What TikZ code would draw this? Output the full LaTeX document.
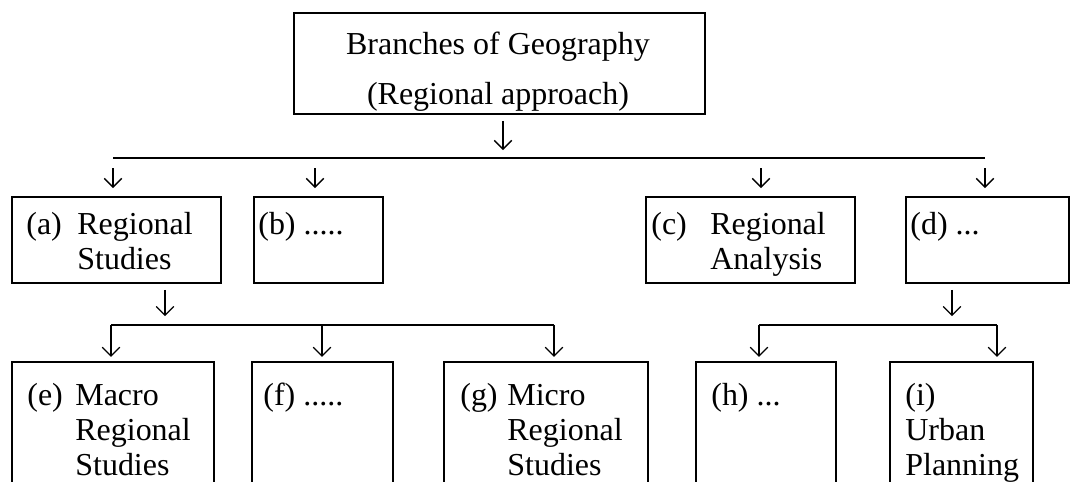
\documentclass[tikz,border=0pt]{standalone}
\usepackage{fontspec}
\setmainfont{Liberation Serif}
\usetikzlibrary{arrows.meta}

\tikzset{
  branchbox/.style={draw, line width=1.1pt, rectangle, anchor=north west, inner sep=0pt},
  entry/.style={anchor=base west, inner sep=0pt},
  bar/.style={line width=0.8pt},
  arr/.style={line width=0.75pt, -{Straight Barb[length=5pt,width=10pt]}},
}
% box from (x1,y1) to (x2,y2), in pixels of the page
\newcommand{\branch}[5]{\node[branchbox, minimum width={(#4-#2)*0.02cm}, minimum height={(#5-#3)*0.02cm}] (#1) at (#2,#3) {};}
\newcommand{\lines}[1]{\begin{tabular}[t]{@{}l@{}}#1\end{tabular}}

\begin{document}
\begin{tikzpicture}[x=0.02cm, y=-0.02cm, font=\fontsize{18.2}{19.8}\selectfont]
  \useasboundingbox (0,0) rectangle (1071,482);
  \clip (0,0) rectangle (1071,482);

  % Top box
  \branch{top}{293}{12}{704}{113}
  \node[anchor=base, inner sep=0pt, font=\fontsize{18.2}{28.3}\selectfont] (ttop) at (498,55)
    {\begin{tabular}[t]{@{}c@{}}Branches of Geography\\(Regional approach)\end{tabular}};

  % First row
  \branch{a}{11}{196}{220}{282}
  \branch{b}{253}{196}{382}{282}
  \branch{c}{645}{196}{854}{282}
  \branch{d}{905}{196}{1068}{282}
  \node[entry] (la) at (26,235) {(a)};
  \node[entry] (ta) at (77,235) {\lines{Regional\\Studies}};
  \node[entry] (lb) at (258,235) {(b) .....};
  \node[entry] (lc) at (651,235) {(c)};
  \node[entry] (tc) at (710,235) {\lines{Regional\\Analysis}};
  \node[entry] (ld) at (910,235) {(d) ...};

  % Second row
  \branch{e}{11}{361}{213}{500}
  \branch{f}{251}{361}{392}{500}
  \branch{g}{443}{361}{647}{500}
  \branch{h}{695}{361}{835}{500}
  \branch{i}{889}{361}{1032}{500}
  \node[entry] (le) at (27,406) {(e)};
  \node[entry] (te) at (75,406) {\lines{Macro\\Regional\\Studies}};
  \node[entry] (lf) at (263,406) {(f) .....};
  \node[entry] (lg) at (460,406) {(g)};
  \node[entry] (tg) at (507,406) {\lines{Micro\\Regional\\Studies}};
  \node[entry] (lh) at (711,406) {(h) ...};
  \node[entry] (li) at (905,406) {\lines{(i)\\Urban\\Planning}};

  % Branch lines
  \coordinate (bar1-a) at (113,158);
  \coordinate (bar1-b) at (315,158);
  \coordinate (bar1-c) at (761,158);
  \coordinate (bar1-d) at (985,158);
  \coordinate (bar1-top) at (503,158);
  \draw[bar] (bar1-a) -- (bar1-d);
  \coordinate (bar2-e) at (111,325);
  \coordinate (bar2-f) at (322,325);
  \coordinate (bar2-g) at (554,325);
  \coordinate (bar2-a) at (165,325);
  \draw[bar] (bar2-e) -- (bar2-g);
  \coordinate (bar3-h) at (759,325);
  \coordinate (bar3-i) at (997,325);
  \coordinate (bar3-d) at (952,325);
  \draw[bar] (bar3-h) -- (bar3-i);

  % Arrows
  \draw[arr, shorten <=3.4pt, shorten >=4.5pt] (top.south -| bar1-top) -- (bar1-top);
  \foreach \n in {a,b,c,d}
    \draw[arr, shorten <=5.7pt, shorten >=4.5pt] (bar1-\n) -- (bar1-\n |- \n.north);
  \draw[arr, shorten <=3.4pt, shorten >=5pt] (a.south -| bar2-a) -- (bar2-a);
  \draw[arr, shorten <=3.4pt, shorten >=5pt] (d.south -| bar3-d) -- (bar3-d);
  \foreach \n in {e,f,g}
    \draw[arr, shorten >=2.3pt] (bar2-\n) -- (bar2-\n |- \n.north);
  \foreach \n in {h,i}
    \draw[arr, shorten >=2.3pt] (bar3-\n) -- (bar3-\n |- \n.north);
\end{tikzpicture}
\end{document}
